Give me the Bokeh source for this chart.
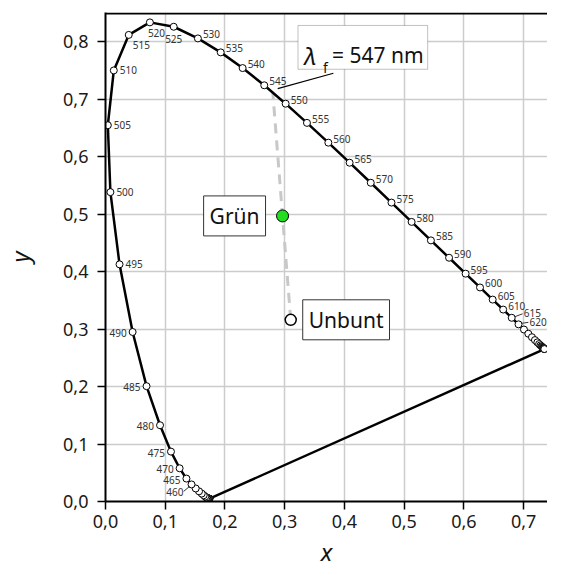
import numpy as np
from bokeh.plotting import figure
from bokeh.models import ColumnDataSource, Label, BoxAnnotation, FixedTicker, Range1d, Span
from bokeh.core.properties import value
from bokeh.embed import file_html
from bokeh.resources import INLINE

# ---------------- data ----------------
wavelengths = [380, 385, 390, 395, 400, 405, 410, 415, 420, 425, 430, 435, 440, 445,
               450, 455, 460, 465, 470, 475, 480, 485, 490, 495, 500, 505, 510, 515,
               520, 525, 530, 535, 540, 545, 550, 555, 560, 565, 570, 575, 580, 585,
               590, 595, 600, 605, 610, 615, 620, 625, 630, 635, 640, 645, 650, 655,
               660, 665, 670, 675, 680, 685, 690, 695, 700]
locus_x = [0.1741, 0.1740, 0.1738, 0.1736, 0.1733, 0.1730, 0.1726, 0.1721, 0.1714, 0.1703,
           0.1689, 0.1669, 0.1644, 0.1611, 0.1566, 0.1510, 0.1440, 0.1355, 0.1241, 0.1096,
           0.0913, 0.0687, 0.0454, 0.0235, 0.0082, 0.0039, 0.0139, 0.0389, 0.0743, 0.1142,
           0.1547, 0.1929, 0.2296, 0.2658, 0.3016, 0.3373, 0.3731, 0.4087, 0.4441, 0.4788,
           0.5125, 0.5448, 0.5752, 0.6029, 0.6270, 0.6482, 0.6658, 0.6801, 0.6915, 0.7006,
           0.7079, 0.7140, 0.7190, 0.7230, 0.7260, 0.7283, 0.7300, 0.7311, 0.7320, 0.7327,
           0.7334, 0.7340, 0.7344, 0.7346, 0.7347]
locus_y = [0.0050, 0.0050, 0.0049, 0.0049, 0.0048, 0.0048, 0.0048, 0.0048, 0.0051, 0.0058,
           0.0069, 0.0086, 0.0109, 0.0138, 0.0177, 0.0227, 0.0297, 0.0399, 0.0578, 0.0868,
           0.1327, 0.2007, 0.2950, 0.4127, 0.5384, 0.6548, 0.7502, 0.8120, 0.8338, 0.8262,
           0.8059, 0.7816, 0.7543, 0.7243, 0.6923, 0.6589, 0.6245, 0.5896, 0.5547, 0.5202,
           0.4866, 0.4544, 0.4242, 0.3965, 0.3725, 0.3514, 0.3340, 0.3197, 0.3083, 0.2993,
           0.2920, 0.2859, 0.2809, 0.2770, 0.2740, 0.2717, 0.2700, 0.2689, 0.2680, 0.2673,
           0.2666, 0.2660, 0.2656, 0.2654, 0.2653]
labeled_wl = list(range(460, 625, 5))

white_point_x = 0.3101   # "Unbunt"
white_point_y = 0.3162
green_x = 0.2964         # "Grün"
green_y = 0.4970
dominant_wl = 547
dominant_x = 0.2801
dominant_y = 0.7115

x_ticks = [0.0, 0.1, 0.2, 0.3, 0.4, 0.5, 0.6, 0.7]
x_tick_labels = ["0,0", "0,1", "0,2", "0,3", "0,4", "0,5", "0,6", "0,7"]
y_ticks = [0.0, 0.1, 0.2, 0.3, 0.4, 0.5, 0.6, 0.7, 0.8]
y_tick_labels = ["0,0", "0,1", "0,2", "0,3", "0,4", "0,5", "0,6", "0,7", "0,8"]

# ---------------- layout / style ----------------
FONT = "Noto Sans"
X_END, Y_END = 0.740, 0.851
FRAME_W, FRAME_H = 450, 491
SX, SY = FRAME_W / X_END, FRAME_H / Y_END   # px per data unit
L0, T0 = 105, 12                            # picture px of frame's left / top edge
B0 = T0 + FRAME_H

def dx_px(px):  # picture px -> data x
    return (px - L0) / SX

def dy_px(py):  # picture px -> data y
    return (B0 - py) / SY

p = figure(width=547, height=570, x_range=Range1d(0, X_END), y_range=Range1d(0, Y_END),
           output_backend="svg", toolbar_location=None,
           min_border_left=97, min_border_right=0, min_border_top=12, min_border_bottom=67)
p.outline_line_color = None
p.background_fill_color = "white"

for ax, ticks, labels in ((p.xaxis, x_ticks, x_tick_labels), (p.yaxis, y_ticks, y_tick_labels)):
    ax.ticker = FixedTicker(ticks=ticks)
    ax.major_label_overrides = {t: l for t, l in zip(ticks, labels)}
    ax.major_label_text_font = FONT
    ax.major_label_text_font_size = "18px"
    ax.major_label_text_color = "#1a1a1a"
    ax.axis_line_width = 2
    ax.axis_line_color = "black"
    ax.major_tick_line_width = 1.5
    ax.major_tick_out = 8
    ax.major_tick_in = 0
    ax.minor_tick_line_color = None
    ax.axis_label_text_font = FONT
    ax.axis_label_text_font_style = "italic"
    ax.axis_label_text_color = "#111111"
    ax.axis_label_text_font_size = "24px"
p.xaxis.major_label_standoff = 5
p.yaxis.major_label_standoff = 9
p.yaxis.axis_label = "y"
p.yaxis.axis_label_standoff = 24
p.xaxis.axis_label = "x"
p.xaxis.axis_label_standoff = 4

p.grid.grid_line_color = "#cccccc"
p.grid.grid_line_width = 1.5

# top frame line (no right border), kept just inside the frame so it is not clipped
p.add_layout(Span(location=Y_END - 1 / SY, dimension="width", line_color="black", line_width=2))

# dashed line white point -> dominant wavelength
p.line([white_point_x, dominant_x], [white_point_y, dominant_y],
       line_color="#c8c8c8", line_width=3, line_dash="10 7")

# spectral locus and purple line
p.line(locus_x, locus_y, line_color="black", line_width=2.5)
p.line([locus_x[-1], locus_x[0]], [locus_y[-1], locus_y[0]], line_color="black", line_width=2.5)
p.scatter(locus_x, locus_y, size=7, fill_color="white", line_color="black", line_width=1)

# wavelength labels: (align, dx, dy) in screen px (dy positive = down)
def label_style(wl):
    if wl == 460:
        return "right", -8, 8
    if wl <= 490:
        return "right", -6, 1
    if wl <= 510:
        return "left", 6, 0
    if wl == 515:
        return "left", 4, 10
    if wl == 520:
        return "left", -2, 11
    if wl == 525:
        return "center", 0, 12
    if wl == 615:
        return "left", 12, -5
    if wl == 620:
        return "left", 11, -2
    return "left", 5, -4

idx = {w: i for i, w in enumerate(wavelengths)}
for align in ("left", "right", "center"):
    xs, ys, ts, dxs, dys = [], [], [], [], []
    for w in labeled_wl:
        a, ox, oy = label_style(w)
        if a != align:
            continue
        xs.append(locus_x[idx[w]]); ys.append(locus_y[idx[w]]); ts.append(str(w))
        dxs.append(ox); dys.append(oy)
    src = ColumnDataSource(dict(x=xs, y=ys, text=ts, dx=dxs, dy=dys))
    p.text(x="x", y="y", text="text", x_offset="dx", y_offset="dy", source=src,
           text_align=align, text_baseline="middle", text_font=value(FONT),
           text_font_size="10px", text_color="#333333")

# small leader lines for crowded labels (screen-px offsets from the point)
leaders = {460: ((-8, 7), (-2, 2)), 615: ((3, -1), (11, -4)), 620: ((3, -1), (10, -2))}
lx0, ly0, lx1, ly1 = [], [], [], []
for w, ((a0, b0), (a1, b1)) in leaders.items():
    x, y = locus_x[idx[w]], locus_y[idx[w]]
    lx0.append(x + a0 / SX); ly0.append(y - b0 / SY)
    lx1.append(x + a1 / SX); ly1.append(y - b1 / SY)
p.segment(lx0, ly0, lx1, ly1, line_color="#333333", line_width=1)

# points
p.scatter([green_x], [green_y], size=12, fill_color="#22dd22", line_color="black", line_width=1)
p.scatter([white_point_x], [white_point_y], size=11, fill_color="white",
          line_color="black", line_width=1.5)

# labels with boxes
box_style = dict(text_font=FONT, text_font_size="21px", text_color="#111111",
                 border_line_color="#333333", border_line_width=1,
                 background_fill_color="white", padding=6, text_baseline="middle")
p.add_layout(Label(x=green_x, y=green_y, x_offset=-17, text="Grün", text_align="right", **box_style))
p.add_layout(Label(x=white_point_x, y=white_point_y, x_offset=12, text="Unbunt",
                   text_align="left", **box_style))

# lambda_f box
bx0, bx1 = dx_px(301), dx_px(433)
by0, by1 = dy_px(69), dy_px(25)
p.add_layout(BoxAnnotation(left=bx0, right=bx1, bottom=by0, top=by1, fill_color="white",
                           fill_alpha=1, line_color="#333333", line_width=1, level="annotation"))
base_y = dy_px(55)
p.add_layout(Label(x=bx0, y=base_y, x_offset=6, text="λ", text_font=FONT,
                   text_font_style="italic", text_font_size="24px", text_color="#111111",
                   text_baseline="alphabetic"))
p.add_layout(Label(x=bx0, y=base_y, x_offset=25, y_offset=-12, text="f", text_font=FONT,
                   text_font_size="14px", text_color="#111111", text_baseline="alphabetic"))
p.add_layout(Label(x=bx0, y=base_y, x_offset=34, text=f"= {dominant_wl} nm", text_font=FONT,
                   text_font_size="21px", text_color="#111111", text_baseline="alphabetic"))
# leader from dominant point to box
p.segment([dominant_x + 5 / SX], [dominant_y + 4 / SY], [dx_px(337)], [dy_px(73)],
          line_color="black", line_width=1.2)

open("out.html", "w").write(file_html(p, INLINE))
